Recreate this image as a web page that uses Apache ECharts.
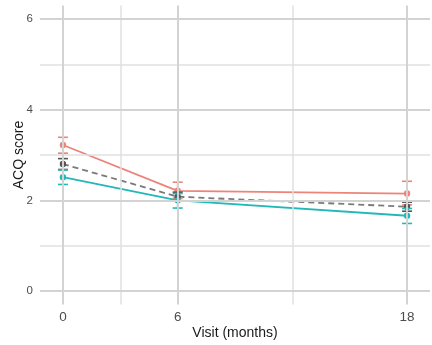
<!DOCTYPE html>
<html>
<head>
<meta charset="utf-8">
<script src="https://cdn.jsdelivr.net/npm/echarts@6/dist/echarts.min.js"></script>
<style>
html,body{margin:0;padding:0;background:#fff;}
#chart{width:432px;height:345px;}
</style>
</head>
<body>
<div id="chart"></div>
<script>
const visits = [0, 6, 18];
const xTickLabels = [0, 6, 18];
const yTickLabels = [0, 2, 4, 6];
const xMinorBreaks = [3, 12];
const yMinorBreaks = [1, 3, 5];

const redMean = [3.22, 2.21, 2.15];
const redLow  = [3.04, 2.05, 1.90];
const redHigh = [3.39, 2.40, 2.42];

const grayMean = [2.80, 2.08, 1.86];
const grayLow  = [2.68, 1.98, 1.76];
const grayHigh = [2.92, 2.18, 1.96];

const tealMean = [2.51, 2.00, 1.66];
const tealLow  = [2.35, 1.83, 1.49];
const tealHigh = [2.67, 2.15, 1.82];

const RED = '#EC8479', GRAY = '#7a7a7a', GRAYPT = '#555555', TEAL = '#22B8B8';

function lineSeries(mean, color, dashed) {
  return {
    type: 'line',
    data: visits.map((v, i) => [v, mean[i]]),
    symbol: 'none',
    lineStyle: { color: color, width: 1.8, type: dashed ? [6, 4] : 'solid' },
    z: 3,
    silent: true
  };
}
function errSeries(mean, low, high, color) {
  return {
    type: 'custom',
    data: visits.map((v, i) => [v, low[i], high[i], mean[i]]),
    renderItem: function (params, api) {
      const lo = api.coord([api.value(0), api.value(1)]);
      const hi = api.coord([api.value(0), api.value(2)]);
      const mid = api.coord([api.value(0), api.value(3)]);
      const w = 5;
      const st = { stroke: color, lineWidth: 1.6 };
      return {
        type: 'group',
        children: [
          { type: 'line', shape: { x1: lo[0], y1: lo[1], x2: hi[0], y2: hi[1] }, style: st },
          { type: 'line', shape: { x1: lo[0] - w, y1: lo[1], x2: lo[0] + w, y2: lo[1] }, style: st },
          { type: 'line', shape: { x1: hi[0] - w, y1: hi[1], x2: hi[0] + w, y2: hi[1] }, style: st },
          { type: 'circle', shape: { cx: mid[0], cy: mid[1], r: 3.2 }, style: { fill: color, stroke: null } }
        ]
      };
    },
    encode: { x: 0, y: [1, 2, 3] },
    z: 4,
    silent: true
  };
}

const majorStyle = { color: '#d3d3d3', width: 2, type: 'solid' };
const minorStyle = { color: '#e0e0e0', width: 1.5, type: 'solid' };
const gridLines = {
  type: 'line',
  data: [],
  silent: true,
  z: 1,
  markLine: {
    silent: true,
    symbol: ['none', 'none'],
    label: { show: false },
    animation: false,
    data: [].concat(
      xMinorBreaks.map(v => ({ xAxis: v, lineStyle: minorStyle })),
      yMinorBreaks.map(v => ({ yAxis: v, lineStyle: minorStyle })),
      xTickLabels.map(v => ({ xAxis: v, lineStyle: majorStyle })),
      yTickLabels.map(v => ({ yAxis: v, lineStyle: majorStyle }))
    )
  }
};

const chart = echarts.init(document.getElementById('chart'), null, { renderer: 'canvas' });
chart.setOption({
  animation: false,
  backgroundColor: '#ffffff',
  grid: { left: 40, right: 2, top: 5.4, bottom: 40.4, containLabel: false, outerBoundsMode: 'none' },
  xAxis: {
    type: 'value', min: -1.2, max: 19.2,
    name: 'Visit (months)', nameLocation: 'middle', nameGap: 22, nameMoveOverlap: false,
    nameTextStyle: { color: '#1a1a1a', fontSize: 14, fontFamily: 'Liberation Sans' },
    axisLine: { show: false }, axisTick: { show: false }, splitLine: { show: false },
    axisLabel: { customValues: xTickLabels, color: '#4d4d4d', fontSize: 13.5, margin: 6, fontFamily: 'Liberation Sans' }
  },
  yAxis: {
    type: 'value', min: -0.3, max: 6.3,
    name: 'ACQ score', nameLocation: 'middle', nameGap: 14, nameRotate: 90, nameMoveOverlap: false,
    nameTextStyle: { color: '#1a1a1a', fontSize: 14, fontFamily: 'Liberation Sans' },
    axisLine: { show: false }, axisTick: { show: false }, splitLine: { show: false },
    axisLabel: { customValues: yTickLabels, color: '#4d4d4d', fontSize: 11.5, margin: 7, fontFamily: 'Liberation Sans' }
  },
  series: [
    gridLines,
    lineSeries(redMean, RED, false),
    errSeries(redMean, redLow, redHigh, RED),
    lineSeries(grayMean, GRAY, true),
    errSeries(grayMean, grayLow, grayHigh, GRAYPT),
    lineSeries(tealMean, TEAL, false),
    errSeries(tealMean, tealLow, tealHigh, TEAL)
  ]
});
</script>
</body>
</html>
